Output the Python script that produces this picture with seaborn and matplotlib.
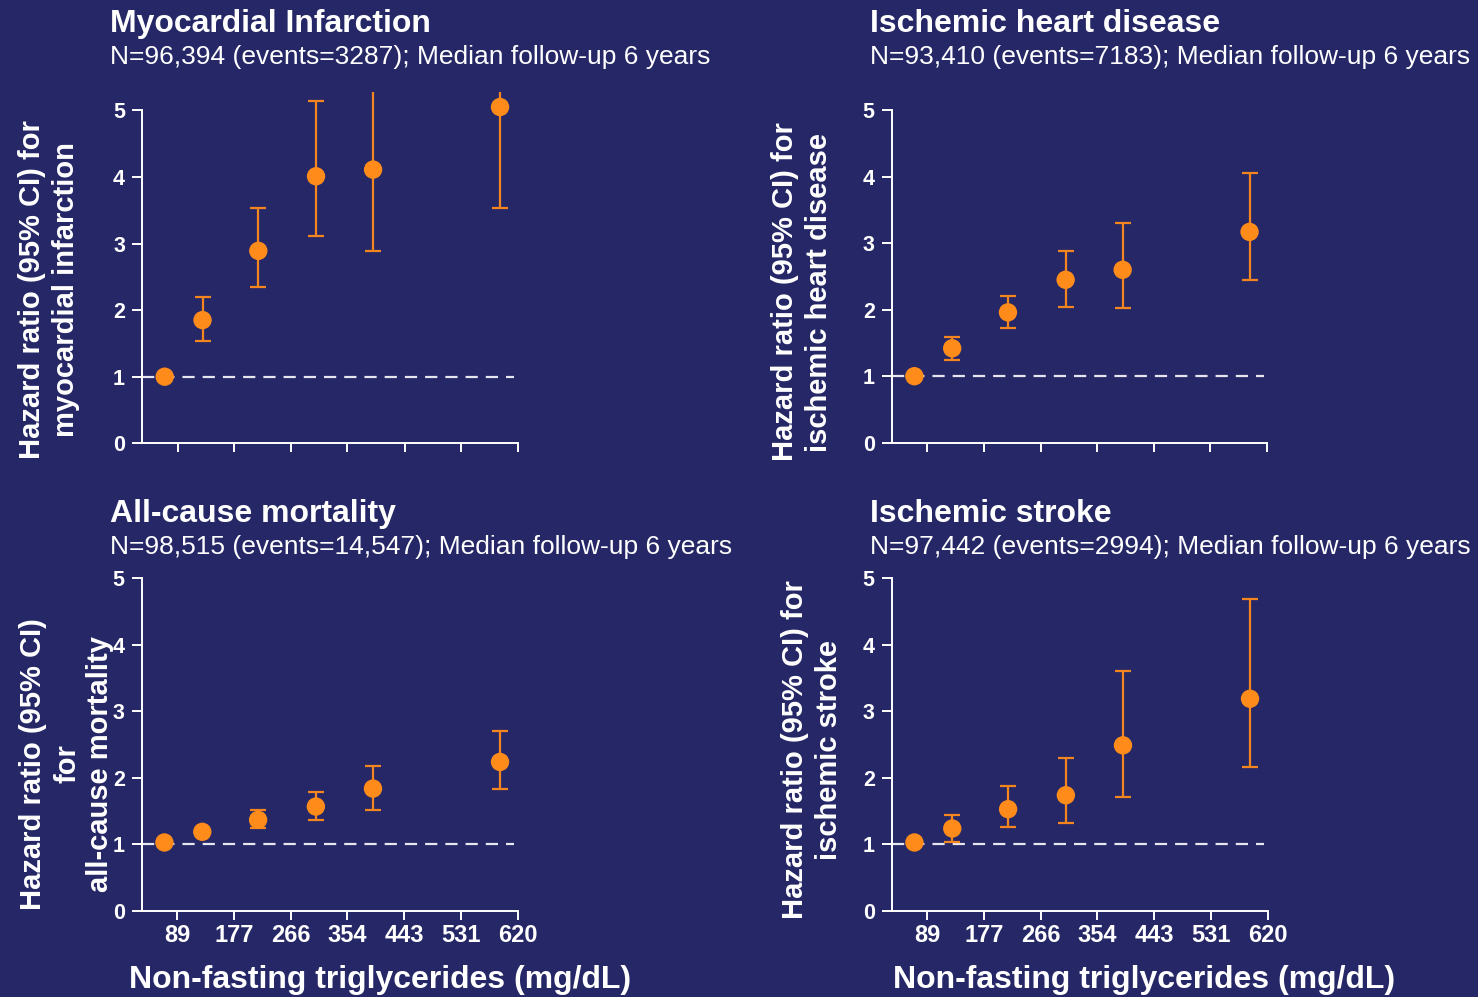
import matplotlib
matplotlib.use("Agg")
import matplotlib.pyplot as plt
import seaborn as sns
import pandas as pd

# Median non-fasting triglycerides of each category (mg/dL)
tg_mgdl = [69, 128, 215, 305, 394, 592]
tick_values = [89, 177, 266, 354, 443, 531, 620]
tick_labels = ["89", "177", "266", "354", "443", "531", "620"]

# Hazard ratios with 95% confidence limits
mi_hr = [1.00, 1.85, 2.89, 4.01, 4.11, 5.05]
mi_lo = [1.00, 1.53, 2.34, 3.12, 2.89, 3.53]
mi_hi = [1.00, 2.20, 3.54, 5.14, 5.90, 7.20]

ihd_hr = [1.00, 1.42, 1.96, 2.45, 2.60, 3.17]
ihd_lo = [1.00, 1.24, 1.72, 2.04, 2.03, 2.45]
ihd_hi = [1.00, 1.59, 2.21, 2.89, 3.31, 4.06]

acm_hr = [1.03, 1.19, 1.37, 1.57, 1.84, 2.24]
acm_lo = [1.03, 1.16, 1.25, 1.37, 1.52, 1.84]
acm_hi = [1.03, 1.23, 1.52, 1.79, 2.18, 2.70]

isc_hr = [1.03, 1.24, 1.53, 1.74, 2.49, 3.19]
isc_lo = [1.03, 1.03, 1.27, 1.32, 1.71, 2.17]
isc_hi = [1.03, 1.44, 1.88, 2.30, 3.61, 4.69]

titles = ["Myocardial Infarction", "Ischemic heart disease",
          "All-cause mortality", "Ischemic stroke"]
subtitles = [
    "N=96,394 (events=3287); Median follow-up 6 years",
    "N=93,410 (events=7183); Median follow-up 6 years",
    "N=98,515 (events=14,547); Median follow-up 6 years",
    "N=97,442 (events=2994); Median follow-up 6 years",
]
ylabels = [
    "Hazard ratio (95% CI) for\nmyocardial infarction",
    "Hazard ratio (95% CI) for\nischemic heart disease",
    "Hazard ratio (95% CI)\nfor\nall-cause mortality",
    "Hazard ratio (95% CI) for\nischemic stroke",
]
xlabel = "Non-fasting triglycerides (mg/dL)"

BG = "#252766"
ORANGE = "#FF8C1A"
BAR = "#F5861F"
WHITE = "#FFFFFF"

sns.set_theme(style="ticks")
plt.rcParams["font.family"] = ["Liberation Sans", "DejaVu Sans"]
plt.rcParams["axes.facecolor"] = BG
plt.rcParams["figure.facecolor"] = BG

W, H = 1478, 997
fig = plt.figure(figsize=(W / 100, H / 100), dpi=100)


def px_axes(left, right, top, bottom):
    return fig.add_axes([left / W, 1 - bottom / H, (right - left) / W, (bottom - top) / H])


panels = [
    dict(hr=mi_hr, lo=mi_lo, hi=mi_hi, box=(142, 518, 91.7, 443.3), bottom=False,
         tx=110, ty=32, ly=(49, 290)),
    dict(hr=ihd_hr, lo=ihd_lo, hi=ihd_hi, box=(891.7, 1267.5, 91.6, 442.7), bottom=False,
         tx=870, ty=32, ly=(802, 292)),
    dict(hr=acm_hr, lo=acm_lo, hi=acm_hi, box=(141.7, 518, 559.7, 911), bottom=True,
         tx=110, ty=522, ly=(67, 764), xl=380),
    dict(hr=isc_hr, lo=isc_lo, hi=isc_hi, box=(891.7, 1268, 559.7, 911), bottom=True,
         tx=870, ty=522, ly=(812, 750), xl=1144),
]

for i, p in enumerate(panels):
    ax = px_axes(*p["box"])
    ax.set_facecolor(BG)
    df = pd.DataFrame({"tg": tg_mgdl, "hr": p["hr"], "lo": p["lo"], "hi": p["hi"]})

    ax.axhline(1, xmin=0, xmax=0.99, color="#E6E6EE", lw=1.6, dashes=(5.5, 3.6), zorder=1)
    ax.errorbar(df["tg"], df["hr"],
                yerr=[df["hr"] - df["lo"], df["hi"] - df["hr"]],
                fmt="none", ecolor=BAR, elinewidth=1.6, capsize=5.8, capthick=1.6, zorder=2)
    sns.scatterplot(data=df, x="tg", y="hr", ax=ax, color=ORANGE, s=175,
                    edgecolor="none", linewidth=0, zorder=3, legend=False)

    ax.set_xlim(33.6, 620)
    ax.set_ylim(0, 5.28)
    ax.set_xticks(tick_values)
    ax.set_yticks([0, 1, 2, 3, 4, 5])
    ax.set_xlabel("")
    ax.set_ylabel("")
    if p["bottom"]:
        ax.set_xticklabels(tick_labels)
    else:
        ax.set_xticklabels([])
    ax.set_yticklabels([str(v) for v in range(6)])

    for s in ["top", "right"]:
        ax.spines[s].set_visible(False)
    for s in ["left", "bottom"]:
        ax.spines[s].set_color(WHITE)
        ax.spines[s].set_linewidth(1.4)
    ax.spines["left"].set_bounds(0, 5)
    ax.tick_params(axis="x", colors=WHITE, length=6.5, width=1.4, pad=3,
                   labelsize=17)
    ax.tick_params(axis="y", colors=WHITE, length=7.2, width=1.4, pad=5,
                   labelsize=15.5)
    for lab in ax.get_xticklabels() + ax.get_yticklabels():
        lab.set_fontweight("bold")
        lab.set_color(WHITE)

    fig.text(p["tx"] / W, 1 - p["ty"] / H, titles[i], color=WHITE,
             fontsize=23, fontweight="bold", ha="left", va="baseline")
    fig.text(p["tx"] / W, 1 - (p["ty"] + 32) / H, subtitles[i], color=WHITE,
             fontsize=19, ha="left", va="baseline")
    fig.text(p["ly"][0] / W, 1 - p["ly"][1] / H, ylabels[i], color=WHITE,
             fontsize=21, fontweight="bold", rotation=90, ha="center", va="center",
             multialignment="center", linespacing=1.25)
    if p["bottom"]:
        fig.text(p["xl"] / W, 1 - 988 / H, xlabel, color=WHITE, fontsize=23,
                 fontweight="bold", ha="center", va="baseline")

fig.savefig("out.png", dpi=100, facecolor=BG)
